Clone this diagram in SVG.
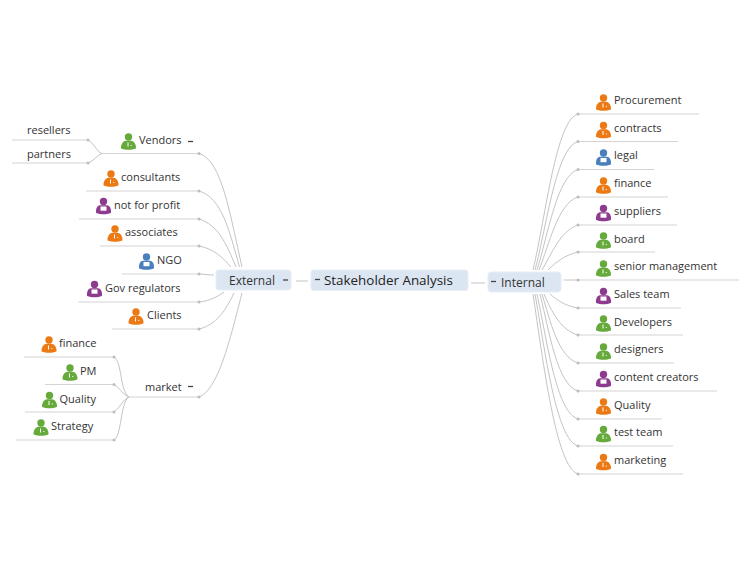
<svg xmlns="http://www.w3.org/2000/svg" width="750" height="563" viewBox="0 0 750 563">
<style>
text{font-family:"Open Sans","Noto Sans","Liberation Sans",sans-serif;font-size:11px;fill:#333}
.box{fill:#dce6f2;stroke:#e6edf6;stroke-width:1}
.main{font-size:12px}
.c{font-size:13.400px;fill:#222}
.u{fill:none;stroke:#d4d4d4;stroke-width:1.2}
.l{fill:none;stroke:#c4c4c4;stroke-width:1}
.d{fill:#bdbdbd}
.m{stroke:#444;stroke-width:1.3}
.o{color:#ec7a14}.g{color:#66aa3c}.b{color:#4a7fbd}.p{color:#8d3b8e}
</style>
<defs>
<symbol id="person" viewBox="0 0 16 17" width="16" height="17" overflow="visible">
<circle cx="8" cy="4" r="3.700" fill="currentColor"/>
<path d="M0.600 15.500C0 11.500 2.500 8.300 5.500 7.800H10.500C13.500 8.300 16 11.500 15.400 15.500C11 17.300 5 17.300 0.600 15.500Z" fill="currentColor"/>
<path d="M7.500 9.500V13.500M10.300 12.500H11.300" stroke="#fff" stroke-width="1" fill="none"/>
</symbol>
<symbol id="personw" viewBox="0 0 16 17" width="16" height="17" overflow="visible">
<circle cx="8" cy="4" r="3.700" fill="currentColor"/>
<path d="M0.600 15.500C0 11.500 1.500 8.300 4.500 7.800H11.500C14.500 8.300 16 11.500 15.400 15.500C11 17.300 5 17.300 0.600 15.500Z" fill="currentColor"/>
<rect x="5" y="9" width="6" height="4.200" fill="#fff"/>
</symbol>
</defs>

<g id="connectors">
<g class="l">
<path d="M296 281H308"/><path d="M471 283H485"/>
<path d="M242 267C230 215 222 160 199 153.500"/>
<path d="M239.500 267C229 230 222 198 199 191"/>
<path d="M236 267C226 243 218 225 199 219"/>
<path d="M231 267C222 257 214 249 199 246"/>
<path d="M214 275C208 275 204 274 199 274"/>
<path d="M224 292C217 297 209 301 199 302"/>
<path d="M234 293C226 310 216 325 199 329"/>
<path d="M242 293C230 340 218 390 199 397"/>
<path d="M102 153.500C96 151 94 143 88 140"/>
<path d="M102 153.500C97 155 94 161 88 163"/>
<path d="M129 397C120 392 122 361 114 357"/>
<path d="M129 397C123 395 120 388 114 384.500"/>
<path d="M129 397C122 400 120 408 114 412"/>
<path d="M129 397C120 402 122 436 114 440"/>
<path d="M533 270C546 215 556 120 578 114"/>
<path d="M535 270C547 225 556 148 578 141.500"/>
<path d="M537 270C548 235 557 176 578 169.500"/>
<path d="M539 270C549 245 558 203 578 197"/>
<path d="M542 270C551 255 560 231 578 225"/>
<path d="M548 270C556 262 565 255 578 252"/>
<path d="M563.500 280H578"/>
<path d="M550 294C557 300 565 306 578 308"/>
<path d="M544 294C551 310 560 330 578 335"/>
<path d="M542 294C550 320 558 357 578 363"/>
<path d="M540 294C549 330 557 385 578 391"/>
<path d="M537 294C547 340 556 412 578 419"/>
<path d="M535 294C545 350 556 440 578 446"/>
<path d="M533 294C543 360 556 468 578 474"/>
</g>
<g class="u">
<path d="M102 153.500H199"/><path d="M86 191H199"/><path d="M79 219H199"/><path d="M100 246H199"/><path d="M122 274H199"/><path d="M78 302H199"/><path d="M112 329H199"/><path d="M129 397H199"/>
<path d="M12 140H88"/><path d="M12 163H88"/>
<path d="M24 357H114"/><path d="M45 384.500H114"/><path d="M25 412H114"/><path d="M16 440H114"/>
<path d="M578 114H699"/><path d="M578 141.500H678"/><path d="M578 169.500H654"/><path d="M578 197H668"/><path d="M578 225H677"/><path d="M578 252H655"/><path d="M578 280H739"/><path d="M578 308H681"/><path d="M578 335H683"/><path d="M578 363H674"/><path d="M578 391H717"/><path d="M578 419H662"/><path d="M578 446H673"/><path d="M578 474H683"/>
</g>
<g class="d">
<circle cx="199" cy="153.500" r="1.500"/><circle cx="199" cy="191" r="1.500"/><circle cx="199" cy="219" r="1.500"/><circle cx="199" cy="246" r="1.500"/><circle cx="199" cy="274" r="1.500"/><circle cx="199" cy="302" r="1.500"/><circle cx="199" cy="329" r="1.500"/><circle cx="199" cy="397" r="1.500"/>
<circle cx="88" cy="140" r="1.500"/><circle cx="88" cy="163" r="1.500"/><circle cx="114" cy="357" r="1.500"/><circle cx="114" cy="384.500" r="1.500"/><circle cx="114" cy="412" r="1.500"/><circle cx="114" cy="440" r="1.500"/>
<circle cx="578" cy="114" r="1.500"/><circle cx="578" cy="141.500" r="1.500"/><circle cx="578" cy="169.500" r="1.500"/><circle cx="578" cy="197" r="1.500"/><circle cx="578" cy="225" r="1.500"/><circle cx="578" cy="252" r="1.500"/><circle cx="578" cy="280" r="1.500"/><circle cx="578" cy="308" r="1.500"/><circle cx="578" cy="335" r="1.500"/><circle cx="578" cy="363" r="1.500"/><circle cx="578" cy="391" r="1.500"/><circle cx="578" cy="419" r="1.500"/><circle cx="578" cy="446" r="1.500"/><circle cx="578" cy="474" r="1.500"/>
</g>
</g>

<g id="center"><rect class="box" x="311" y="270" width="157" height="20.500" rx="3"/><path class="m" d="M315 279.500H320"/><text class="c" x="324" y="285">Stakeholder Analysis</text></g>
<g id="external"><rect class="box" x="216" y="270" width="75" height="20" rx="3"/><path class="m" d="M283 280H288"/><text class="main" x="229" y="284.500">External</text></g>
<g id="internal"><rect class="box" x="488" y="272" width="73" height="20" rx="3"/><path class="m" d="M491 281.500H496"/><text class="main" x="501" y="286.500">Internal</text></g>

<g id="vendors"><use href="#person" class="g" x="120.500" y="133"/><text x="139" y="143.500">Vendors</text><path class="m" d="M188 141.500H193"/></g>
<g id="resellers"><text x="27" y="134">resellers</text></g>
<g id="partners"><text x="27" y="157.500">partners</text></g>
<g id="consultants"><use href="#person" class="o" x="103" y="170"/><text x="121" y="181">consultants</text></g>
<g id="notforprofit"><use href="#personw" class="p" x="95.500" y="197.500"/><text x="114" y="208.500">not for profit</text></g>
<g id="associates"><use href="#person" class="o" x="107" y="225"/><text x="125" y="236">associates</text></g>
<g id="ngo"><use href="#personw" class="b" x="138.500" y="253"/><text x="157" y="264">NGO</text></g>
<g id="gov"><use href="#personw" class="p" x="86.500" y="280.500"/><text x="105" y="291.500">Gov regulators</text></g>
<g id="clients"><use href="#person" class="o" x="128" y="308"/><text x="147" y="319">Clients</text></g>
<g id="market"><text x="145" y="390.500">market</text><path class="m" d="M188 386.500H193"/></g>
<g id="lfinance"><use href="#person" class="o" x="41" y="336"/><text x="59" y="347">finance</text></g>
<g id="pm"><use href="#person" class="g" x="62" y="364"/><text x="80" y="374.500">PM</text></g>
<g id="lquality"><use href="#person" class="g" x="41.500" y="391.500"/><text x="59.500" y="402.500">Quality</text></g>
<g id="strategy"><use href="#person" class="g" x="33" y="419"/><text x="51" y="430">Strategy</text></g>

<g id="procurement"><use href="#person" class="o" x="595.500" y="94"/><text x="614" y="104">Procurement</text></g>
<g id="contracts"><use href="#person" class="o" x="595.500" y="121.500"/><text x="614" y="131.500">contracts</text></g>
<g id="legal"><use href="#personw" class="b" x="595.500" y="149"/><text x="614" y="159">legal</text></g>
<g id="finance"><use href="#person" class="o" x="595.500" y="177"/><text x="614" y="187">finance</text></g>
<g id="suppliers"><use href="#personw" class="p" x="595.500" y="204.500"/><text x="614" y="215">suppliers</text></g>
<g id="board"><use href="#person" class="g" x="595.500" y="232"/><text x="614" y="242.500">board</text></g>
<g id="senior"><use href="#person" class="g" x="595.500" y="260"/><text x="614" y="270">senior management</text></g>
<g id="sales"><use href="#personw" class="p" x="595.500" y="287.500"/><text x="614" y="298">Sales team</text></g>
<g id="developers"><use href="#person" class="g" x="595.500" y="315"/><text x="614" y="325.500">Developers</text></g>
<g id="designers"><use href="#person" class="g" x="595.500" y="343"/><text x="614" y="353">designers</text></g>
<g id="content"><use href="#personw" class="p" x="595.500" y="370.500"/><text x="614" y="381">content creators</text></g>
<g id="quality"><use href="#person" class="o" x="595.500" y="398"/><text x="614" y="408.500">Quality</text></g>
<g id="test"><use href="#person" class="g" x="595.500" y="425.500"/><text x="614" y="436">test team</text></g>
<g id="marketing"><use href="#person" class="o" x="595.500" y="453.500"/><text x="614" y="464">marketing</text></g>
</svg>
